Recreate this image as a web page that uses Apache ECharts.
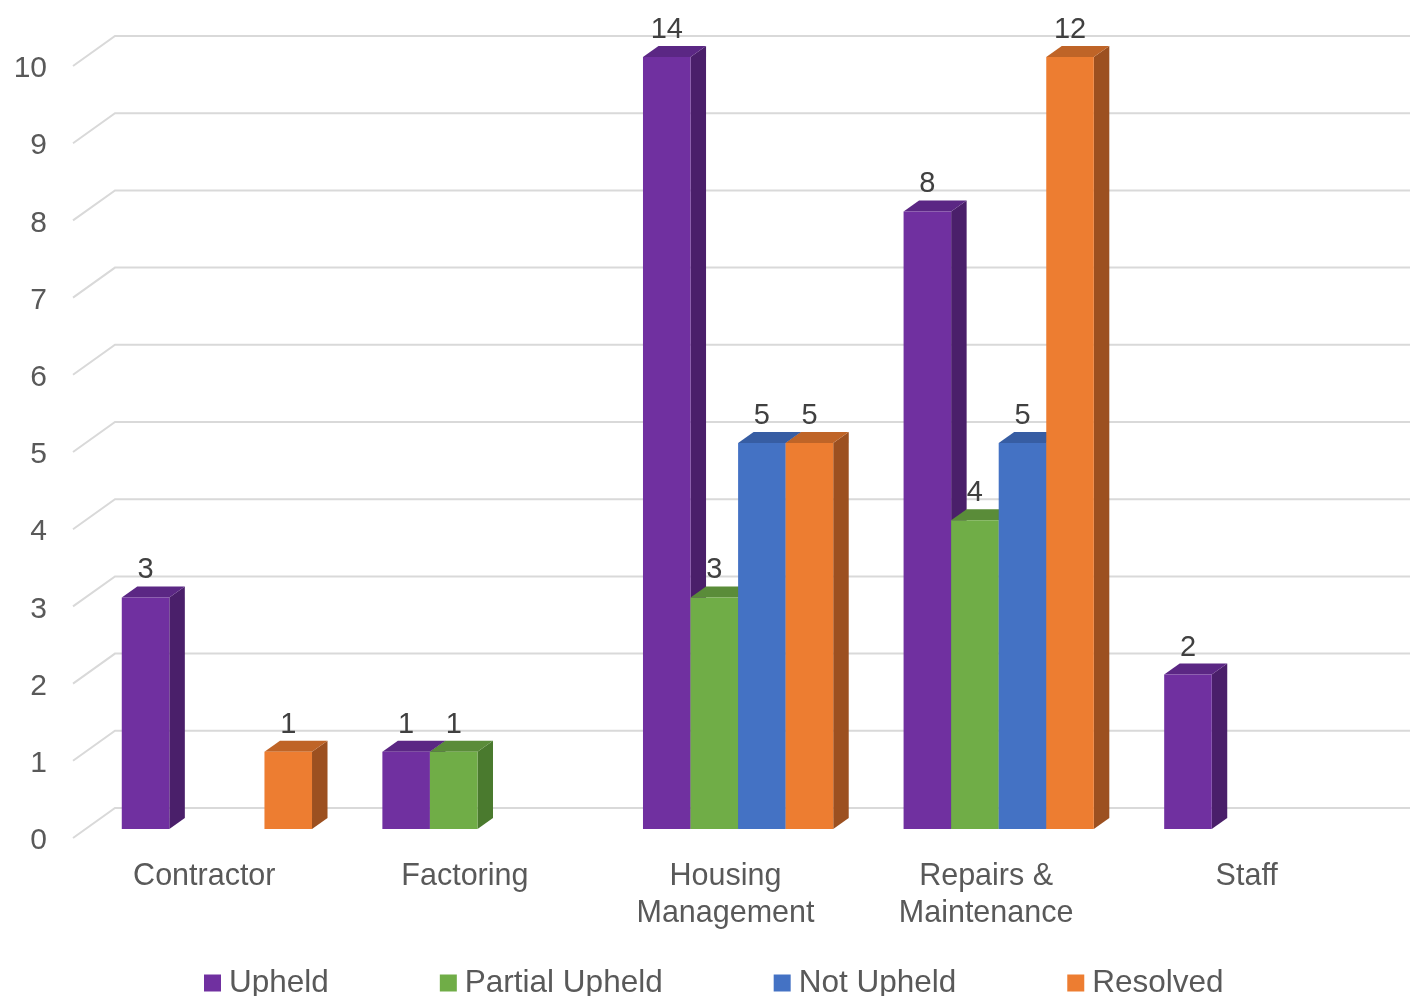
<!DOCTYPE html>
<html>
<head>
<meta charset="utf-8">
<title>Complaints by category</title>
<script src="https://cdn.jsdelivr.net/npm/echarts@6/dist/echarts.min.js"></script>
<style>
html, body { margin: 0; padding: 0; background: #fff; }
#chart { width: 1410px; height: 996px; }
</style>
</head>
<body>
<div id="chart"></div>
<script>
const categories = ['Contractor', 'Factoring', 'Housing\nManagement', 'Repairs &\nMaintenance', 'Staff'];
const upheld = [3, 1, 14, 8, 2];
const partialUpheld = [0, 1, 3, 4, 0];
const notUpheld = [0, 0, 5, 5, 0];
const resolved = [1, 0, 5, 12, 0];
const yTicks = [0, 1, 2, 3, 4, 5, 6, 7, 8, 9, 10];
const AXIS_MAX = 10;

// 3d look: bars sit a bit into the depth, back wall further back
const BAR_SHIFT_X = 12.6, BAR_SHIFT_Y = -9;
const BAR_DX = 15.5, BAR_DY = -11;
const WALL_DX = 42, WALL_DY = -30;
const FONT = '"Liberation Sans", Arial, sans-serif';

const seriesDefs = [
  { name: 'Upheld', data: upheld, front: '#7030A0', side: '#4A1F6A', top: '#5B2784' },
  { name: 'Partial Upheld', data: partialUpheld, front: '#70AD47', side: '#4A7A2E', top: '#5A8C39' },
  { name: 'Not Upheld', data: notUpheld, front: '#4472C4', side: '#2E5190', top: '#375DA3' },
  { name: 'Resolved', data: resolved, front: '#ED7D31', side: '#9C5020', top: '#BF6427' },
];

function barRenderer(idx, def) {
  return function (params, api) {
    const cat = api.value(0);
    const val = api.value(1);
    if (!val) return;
    // values above the axis max are cut at the top but keep their real label
    const shown = Math.min(val, AXIS_MAX);
    const band = api.size([1, 0])[0];
    const w = band * 0.1825;
    const base = api.coord([cat, 0]);
    const tp = api.coord([cat, shown]);
    const x0 = base[0] + BAR_SHIFT_X - 2 * w + idx * w;
    const x1 = x0 + w;
    const yb = base[1] + BAR_SHIFT_Y;
    const yt = tp[1] + BAR_SHIFT_Y;
    return {
      type: 'group',
      children: [
        {
          type: 'polygon',
          shape: { points: [[x1, yt], [x1 + BAR_DX, yt + BAR_DY], [x1 + BAR_DX, yb + BAR_DY], [x1, yb]] },
          style: { fill: def.side },
        },
        {
          type: 'polygon',
          shape: { points: [[x0, yt], [x0 + BAR_DX, yt + BAR_DY], [x1 + BAR_DX, yt + BAR_DY], [x1, yt]] },
          style: { fill: def.top },
        },
        {
          type: 'rect',
          shape: { x: x0, y: yt, width: w, height: yb - yt },
          style: { fill: def.front },
        },
        {
          type: 'text',
          x: x0 + w / 2,
          y: yt + BAR_DY - 16,
          style: {
            text: String(val),
            fill: '#404040',
            font: '29px ' + FONT,
            align: 'center',
            verticalAlign: 'middle',
          },
        },
      ],
    };
  };
}

const chart = echarts.init(document.getElementById('chart'));

const series = [{
  type: 'custom',
  name: 'wall',
  z: 1,
  silent: true,
  data: yTicks.map((v) => [0, v]),
  encode: { x: 0, y: 1 },
  renderItem: function (params, api) {
    const y = api.coord([0, api.value(1)])[1];
    const cs = params.coordSys;
    const x = cs.x - 1;
    return {
      type: 'polyline',
      shape: { points: [[x, y], [x + WALL_DX, y + WALL_DY], [cs.x + cs.width + WALL_DX, y + WALL_DY]] },
      style: { stroke: '#D9D9D9', lineWidth: 2, fill: null },
    };
  },
}];

seriesDefs.forEach((def, i) => {
  series.push({
    type: 'custom',
    name: def.name,
    z: 2,
    itemStyle: { color: def.front },
    data: def.data.map((v, c) => [c, v]),
    encode: { x: 0, y: 1 },
    renderItem: barRenderer(i, def),
  });
});

chart.setOption({
  animation: false,
  backgroundColor: '#fff',
  textStyle: { fontFamily: FONT },
  grid: { left: 74, right: 33, top: 66, bottom: 158 },
  legend: {
    data: seriesDefs.map((d) => d.name),
    left: 204,
    top: 967,
    padding: 0,
    icon: 'rect',
    itemWidth: 17,
    itemHeight: 17,
    itemGap: 111,
    textStyle: { fontSize: 31.5, lineHeight: 32, color: '#595959', padding: [0, 0, 0, 3] },
  },
  xAxis: {
    type: 'category',
    data: categories,
    axisLine: { show: false },
    axisTick: { show: false },
    splitLine: { show: false },
    axisLabel: { fontSize: 30.5, lineHeight: 37, color: '#595959', margin: 20, interval: 0 },
  },
  yAxis: {
    type: 'value',
    min: 0,
    max: AXIS_MAX,
    interval: 1,
    axisLine: { show: false },
    axisTick: { show: false },
    splitLine: { show: false },
    axisLabel: {
      margin: 27,
      formatter: '{t|{value}}',
      rich: { t: { fontSize: 30, color: '#595959', padding: [6, 0, 0, 0] } },
    },
  },
  series: series,
});
</script>
</body>
</html>
